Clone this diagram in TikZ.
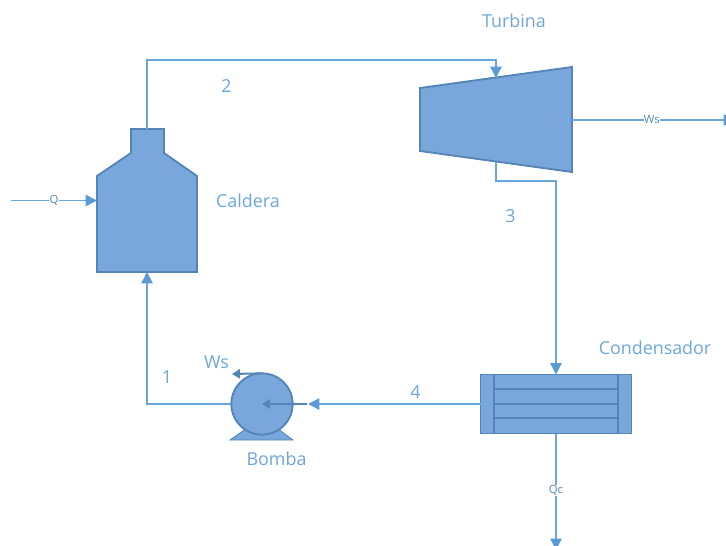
\documentclass[tikz,border=0pt]{standalone}
\usepackage{fontspec}
\setmainfont{Open Sans}
\usetikzlibrary{arrows.meta}
\definecolor{equipblue}{RGB}{122,167,219}
\definecolor{edgeblue}{RGB}{84,133,182}
\definecolor{pipeblue}{RGB}{107,165,221}
\definecolor{tipblue}{RGB}{91,155,213}
\definecolor{textblue}{RGB}{108,166,220}
\tikzset{
  equip/.style={draw=edgeblue, fill=equipblue, line width=1.4pt, line join=miter},
  ghost/.style={inner sep=0pt, outer sep=0pt, draw=none},
  pipe/.style={draw=pipeblue, line width=1.1pt, -{Triangle[length=8.5pt, width=8.5pt, color=tipblue]}},
  inner/.style={draw=edgeblue, line width=1.5pt, -{Triangle[length=6pt, width=7pt]}},
  biglabel/.style={text=textblue, font=\fontsize{13.4}{15}\selectfont},
  smalllabel/.style={text=edgeblue, font=\fontsize{8.5}{10}\selectfont, fill=white, inner sep=0.2pt}
}
\begin{document}
\begin{tikzpicture}[x=0.75pt, y=-0.75pt]
    \clip (0,0) rectangle (726,546);
    % equipment
    \draw[equip] (97,176) -- (131,153) -- (131,129) -- (164,129) -- (164,153)
      -- (197,176) -- (197,272) -- (97,272) -- cycle;
    \node[ghost, minimum width=75pt, minimum height=107.25pt] (caldera) at (147,200.5) {};
    \draw[equip] (420,88) -- (572,67) -- (572,172) -- (420,151) -- cycle;
    \node[ghost, minimum width=114pt, minimum height=63pt] (turbina) at (496,120) {};
    \node[equip, rectangle, inner sep=0pt, outer sep=0pt, minimum width=113.25pt,
          minimum height=44.25pt] (condensador) at (556,404) {};
    \draw[edgeblue, line width=1.4pt] (494,374) -- (494,433) (618,374) -- (618,433);
    \foreach \ypos in {389,404,418}
      \draw[edgeblue, line width=1.4pt] (494,\ypos) -- (618,\ypos);
    \draw[equip, line width=0.6pt] (230,440) -- (247,428) -- (277,428) -- (293,440) -- cycle;
    \node[equip, circle, inner sep=0pt, outer sep=0pt, minimum size=46pt] (bomba) at (262,404) {};

    % free ends
    \coordinate (qin) at (11,200.5);
    \coordinate (wsout) at (735,120);
    \coordinate (qcout) at (556,550);
    \coordinate (wsbomba) at (232,374);

    % pipes
    \draw[pipe] (caldera.north) |- (147,60) -| (turbina.north);
    \draw[pipe] (turbina.south) |- (556,181) -- (condensador.north);
    \draw[pipe] (condensador.west) -- (308,404);
    \draw[inner] (bomba.east) ++(14,0) -- (bomba.center);
    \draw[pipe] (bomba.west) -| (caldera.south);
    \draw[pipe] (qin) -- (caldera.west) node[smalllabel, pos=0.5] (qlabel) {Q};
    \draw[pipe] (turbina.east) -- (wsout) node[smalllabel, pos=0.49] (wslabel) {Ws};
    \draw[pipe] (condensador.south) -- (qcout) node[smalllabel, pos=0.49] (qclabel) {Qc};
    \draw[inner] (bomba.north) -- (wsbomba);

    % labels
    \node[biglabel] (lblturbina) at (514,21) {Turbina};
    \node[biglabel] (lblcaldera) at (248,201) {Caldera};
    \node[biglabel] (lblcondensador) at (655,348) {Condensador};
    \node[biglabel] (lblbomba) at (276.5,459) {Bomba};
    \node[biglabel] (lblws) at (216.5,362) {Ws};
    \node[biglabel] (uno) at (167,377) {1};
    \node[biglabel] (dos) at (226.5,86) {2};
    \node[biglabel] (tres) at (510.5,216) {3};
    \node[biglabel] (cuatro) at (415.5,392) {4};
  \end{tikzpicture}
\end{document}
